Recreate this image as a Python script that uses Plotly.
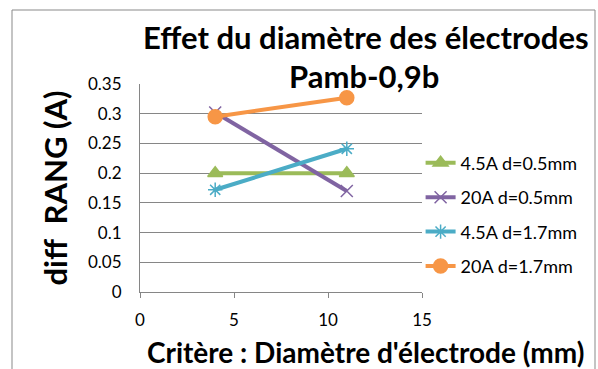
import plotly.graph_objects as go

# Electrode diameter (mm) on the x axis
diametre = [4, 11]

# Series values: diff RANG (A)
serie_45A_05 = [0.2, 0.2]
serie_20A_05 = [0.302, 0.17]
serie_45A_17 = [0.172, 0.241]
serie_20A_17 = [0.295, 0.327]

noms = ["4.5A d=0.5mm", "20A d=0.5mm", "4.5A d=1.7mm", "20A d=1.7mm"]
couleurs = ["#9BBB59", "#8064A2", "#4BACC6", "#F79646"]
symboles = ["triangle-up", "x-thin-open", "asterisk-open", "circle"]
tailles = [13, 12, 12, 14]
valeurs = [serie_45A_05, serie_20A_05, serie_45A_17, serie_20A_17]

FONT = "Lato, Open Sans, sans-serif"

# Plot area in pixels: x 140..422, y 84..292
PX_L, PX_R, PX_T, PX_B = 140, 422, 84, 292


def px_x(px):
    return (px - PX_L) / (PX_R - PX_L)


def px_y(py):
    return (PX_B - py) / (PX_B - PX_T)


fig = go.Figure()
for i, (nom, vals) in enumerate(zip(noms, valeurs)):
    fig.add_trace(go.Scatter(
        x=diametre, y=vals, name=nom, mode="lines+markers",
        legendgroup=nom,
        line=dict(color=couleurs[i], width=4),
        marker=dict(symbol=symboles[i], size=tailles[i], color=couleurs[i],
                    line=dict(color=couleurs[i], width=1.5)),
    ))

fig.update_layout(
    width=598, height=369,
    margin=dict(l=PX_L, r=598 - PX_R, t=PX_T, b=369 - PX_B),
    paper_bgcolor="white", plot_bgcolor="white",
    font=dict(family=FONT, color="black"),
    showlegend=True,
    legend=dict(x=0.995, xanchor="left", y=0.372, yanchor="middle",
                font=dict(size=18, family=FONT), tracegroupgap=8,
                bgcolor="rgba(0,0,0,0)"),
    xaxis=dict(range=[0, 15], tickvals=[0, 5, 10, 15], showgrid=False,
               showline=True, linecolor="#868686", linewidth=1,
               ticks="outside", ticklen=5, tickcolor="#868686",
               ticklabelstandoff=8,
               tickfont=dict(size=17), zeroline=False),
    yaxis=dict(range=[0, 0.35], tickvals=[0, 0.05, 0.1, 0.15, 0.2, 0.25, 0.3, 0.35],
               ticktext=["0", "0.05", "0.1", "0.15", "0.2", "0.25", "0.3", "0.35"],
               showgrid=True, gridcolor="#868686", gridwidth=1,
               showline=True, linecolor="#868686", linewidth=1,
               ticks="", ticklabelstandoff=14, zeroline=False,
               tickfont=dict(size=17),
               title=dict(text="<b>diff\u00a0\u00a0RANG (A)</b>", font=dict(size=31), standoff=11)),
    shapes=[dict(type="rect", xref="paper", yref="paper",
                 x0=px_x(12), x1=px_x(595),
                 y0=-0.4, y1=px_y(10),
                 line=dict(color="#898989", width=1), layer="below")],
    annotations=[
        dict(text="<b>Effet du diamètre des électrodes</b>", xref="paper", yref="paper",
             x=px_x(366), y=px_y(37), xanchor="center", yanchor="middle",
             showarrow=False, font=dict(size=31, family=FONT)),
        dict(text="<b>Pamb-0,9b</b>", xref="paper", yref="paper",
             x=px_x(364), y=px_y(76), xanchor="center", yanchor="middle",
             showarrow=False, font=dict(size=31, family=FONT)),
        dict(text="<b>Critère : Diamètre d'électrode (mm)</b>", xref="paper", yref="paper",
             x=px_x(365), y=px_y(352), xanchor="center", yanchor="middle",
             showarrow=False, font=dict(size=28, family=FONT)),
    ],
)

fig.write_html("out.html")
